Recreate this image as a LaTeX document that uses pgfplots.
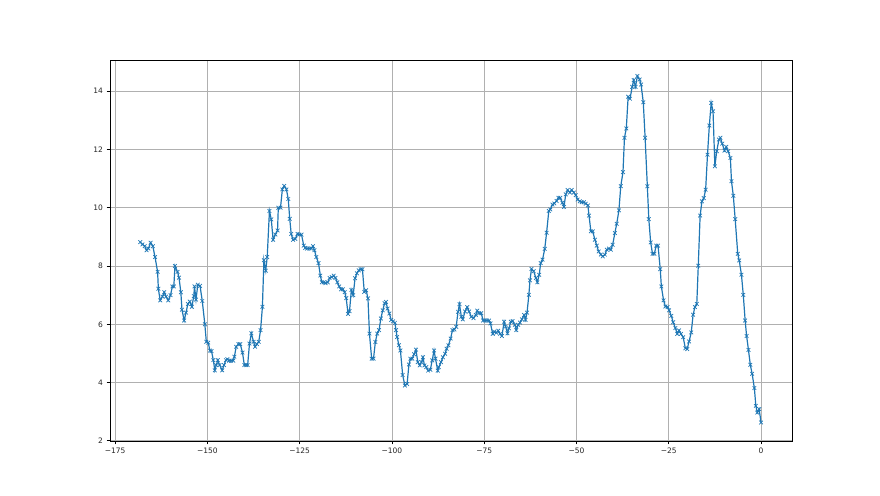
\documentclass[border=0pt]{standalone}
\usepackage{pgfplots}
\pgfplotsset{compat=1.18}
\usepackage{fontspec}
\setmainfont{DejaVu Sans}
\definecolor{mplblue}{HTML}{1F77B4}
\definecolor{mplgrid}{HTML}{B0B0B0}
\begin{document}
\begin{tikzpicture}[x=1pt,y=1pt]
\useasboundingbox (0,0) rectangle (880,495);
\begin{axis}[
  at={(110pt,54pt)}, anchor=south west,
  scale only axis, width=682pt, height=381pt,
  xmin=-176.4, xmax=8.4, ymin=1.995, ymax=15.07,
  xtick={-175,-150,-125,-100,-75,-50,-25,0},
  xticklabels={−175,−150,−125,−100,−75,−50,−25,0},
  ytick={2,4,6,8,10,12,14},
  /pgf/number format/assume math mode=true,
  ticklabel style={font=\fontsize{7.5}{9}\selectfont, text=black!85},
  grid=major,
  major grid style={color=mplgrid, line width=0.8pt},
  axis line style={black, line width=0.8pt},
  tick style={black, line width=0.8pt},
  major tick length=3.5pt,
  tick align=outside, tick pos=left,
]
\addplot[color=mplblue, line width=1.2pt, mark=x, mark size=2.6pt, mark options={line width=0.7pt, fill opacity=0.6}] coordinates {
(-168.2,8.82) (-167.6,8.74) (-167.0,8.68) (-166.5,8.54) (-166.0,8.60) (-165.4,8.80) (-164.8,8.68) (-164.2,8.31)
(-163.5,7.80) (-163.3,7.22) (-162.8,6.82) (-162.2,6.95) (-161.7,7.10) (-161.2,6.95) (-160.6,6.82) (-160.0,7.00)
(-159.5,7.30) (-159.1,7.30) (-158.8,8.00) (-158.1,7.80) (-157.7,7.60) (-157.2,7.10) (-156.9,6.50) (-156.3,6.13)
(-155.8,6.40) (-155.3,6.70) (-154.8,6.78) (-154.2,6.60) (-153.7,6.97) (-153.5,7.30) (-153.1,6.85) (-152.6,7.36)
(-152.0,7.32) (-151.4,6.80) (-150.7,6.00) (-150.3,5.40) (-149.8,5.37) (-149.3,5.10) (-148.9,5.08) (-148.4,4.77)
(-148.0,4.42) (-147.6,4.60) (-147.2,4.77) (-146.7,4.60) (-146.0,4.42) (-145.5,4.60) (-145.0,4.77) (-144.6,4.80)
(-144.1,4.75) (-143.6,4.75) (-143.0,4.75) (-142.7,4.89) (-142.2,5.23) (-141.6,5.32) (-141.1,5.32) (-140.5,5.03)
(-140.0,4.60) (-139.5,4.60) (-139.1,4.60) (-138.6,5.34) (-138.1,5.69) (-137.5,5.40) (-137.1,5.23) (-136.6,5.32)
(-136.1,5.40) (-135.6,5.80) (-135.1,6.60) (-134.7,8.20) (-134.2,7.84) (-133.8,8.31) (-133.2,9.89) (-132.7,9.60)
(-132.2,8.90) (-131.6,9.08) (-131.0,9.22) (-130.8,10.00) (-130.2,10.00) (-129.7,10.63) (-129.2,10.75) (-128.6,10.63)
(-128.1,10.30) (-127.7,9.62) (-127.3,9.10) (-126.8,8.90) (-126.2,8.93) (-125.6,9.10) (-125.1,9.08) (-124.5,9.08)
(-123.9,8.70) (-123.5,8.62) (-123.0,8.60) (-122.4,8.60) (-121.9,8.60) (-121.4,8.68) (-121.0,8.54) (-120.5,8.31)
(-119.9,8.10) (-119.4,7.67) (-119.0,7.44) (-118.5,7.44) (-118.0,7.41) (-117.4,7.44) (-116.9,7.59) (-116.3,7.62)
(-115.8,7.67) (-115.3,7.59) (-114.8,7.44) (-114.3,7.30) (-113.8,7.20) (-113.3,7.20) (-112.8,7.10) (-112.4,6.90)
(-111.9,6.36) (-111.5,6.45) (-111.0,7.18) (-110.5,7.00) (-110.0,7.58) (-109.5,7.75) (-109.0,7.85) (-108.5,7.89)
(-108.0,7.89) (-107.5,7.11) (-107.0,7.17) (-106.5,6.89) (-106.1,5.68) (-105.5,4.82) (-105.0,4.82) (-104.5,5.39)
(-104.0,5.68) (-103.5,5.80) (-103.0,6.20) (-102.5,6.48) (-102.0,6.72) (-101.6,6.77) (-101.2,6.54) (-100.7,6.37)
(-100.2,6.15) (-99.7,6.10) (-99.2,6.05) (-98.9,5.80) (-98.6,5.56) (-98.1,5.28) (-97.7,5.10) (-97.1,4.26)
(-96.5,3.90) (-95.9,3.95) (-95.4,4.62) (-95.0,4.82) (-94.5,4.82) (-94.0,4.97) (-93.5,5.13) (-93.0,4.70)
(-92.5,4.59) (-92.0,4.70) (-91.6,4.87) (-91.2,4.59) (-90.7,4.53) (-90.2,4.41) (-89.6,4.44) (-89.1,4.76)
(-88.6,5.10) (-88.2,4.82) (-87.6,4.41) (-87.3,4.53) (-86.7,4.70) (-86.2,4.87) (-85.6,4.99) (-85.2,5.16)
(-84.7,5.28) (-84.1,5.51) (-83.6,5.80) (-83.1,5.82) (-82.6,5.91) (-82.1,6.43) (-81.7,6.69) (-81.2,6.26)
(-80.8,6.17) (-80.2,6.44) (-79.6,6.59) (-79.1,6.44) (-78.5,6.26) (-77.9,6.21) (-77.3,6.32) (-76.9,6.47)
(-76.4,6.38) (-75.8,6.38) (-75.3,6.13) (-74.8,6.13) (-74.3,6.13) (-73.7,6.13) (-73.3,6.03) (-72.7,5.67)
(-72.3,5.75) (-71.7,5.71) (-71.2,5.78) (-70.7,5.67) (-70.2,5.60) (-69.6,6.09) (-69.2,5.92) (-68.7,5.69)
(-68.3,5.86) (-67.8,6.09) (-67.3,6.11) (-66.7,5.98) (-66.3,5.80) (-65.8,5.98) (-65.3,6.06) (-64.8,6.17)
(-64.2,6.32) (-63.8,6.15) (-63.4,6.40) (-62.9,7.01) (-62.6,7.51) (-62.2,7.90) (-61.6,7.82) (-61.0,7.59)
(-60.6,7.44) (-60.1,7.70) (-59.7,8.10) (-59.2,8.22) (-58.6,8.59) (-58.1,9.14) (-57.5,9.89) (-57.1,9.94)
(-56.5,10.11) (-56.0,10.15) (-55.4,10.23) (-54.9,10.34) (-54.4,10.34) (-53.8,10.17) (-53.4,10.03) (-52.9,10.46)
(-52.4,10.61) (-51.8,10.52) (-51.3,10.61) (-50.7,10.52) (-50.2,10.43) (-49.7,10.28) (-49.1,10.22) (-48.6,10.19)
(-48.0,10.19) (-47.5,10.14) (-46.9,10.08) (-46.6,9.73) (-46.1,9.19) (-45.6,9.19) (-45.0,8.90) (-44.5,8.70)
(-44.0,8.50) (-43.4,8.39) (-42.9,8.33) (-42.3,8.39) (-41.8,8.56) (-41.2,8.60) (-40.7,8.56) (-40.2,8.73)
(-39.6,9.13) (-39.1,9.45) (-38.5,9.91) (-38.0,10.74) (-37.4,11.22) (-37.0,12.40) (-36.5,12.72) (-36.0,13.81)
(-35.5,13.74) (-34.9,14.15) (-34.5,14.38) (-34.0,14.15) (-33.5,14.52) (-32.9,14.40) (-32.5,14.23) (-31.9,13.62)
(-31.4,12.40) (-30.8,10.74) (-30.4,9.61) (-29.9,8.81) (-29.4,8.42) (-28.9,8.42) (-28.4,8.70) (-27.9,8.70)
(-27.3,7.89) (-27.0,7.30) (-26.4,6.82) (-25.9,6.61) (-25.3,6.59) (-24.9,6.48) (-24.3,6.29) (-23.8,6.07)
(-23.2,5.87) (-22.7,5.67) (-22.2,5.79) (-21.7,5.67) (-21.1,5.56) (-20.5,5.18) (-20.0,5.15) (-19.5,5.41)
(-18.9,5.72) (-18.4,6.33) (-17.9,6.59) (-17.4,6.70) (-17.0,8.01) (-16.5,9.73) (-16.0,10.22) (-15.5,10.33)
(-15.0,10.62) (-14.5,11.82) (-14.0,12.82) (-13.5,13.60) (-13.0,13.31) (-12.5,11.42) (-12.0,11.94) (-11.4,12.34)
(-11.0,12.40) (-10.5,12.20) (-9.9,11.96) (-9.4,12.09) (-8.9,11.94) (-8.3,11.71) (-8.0,10.91) (-7.5,10.41)
(-7.0,9.61) (-6.3,8.42) (-5.9,8.19) (-5.3,7.70) (-4.8,7.01) (-4.3,6.13) (-3.9,5.60) (-3.4,5.12)
(-2.9,4.61) (-2.4,4.30) (-1.8,3.81) (-1.4,3.20) (-1.0,2.97) (-0.5,3.09) (0.0,2.63)
};
\end{axis}
\end{tikzpicture}
\end{document}
